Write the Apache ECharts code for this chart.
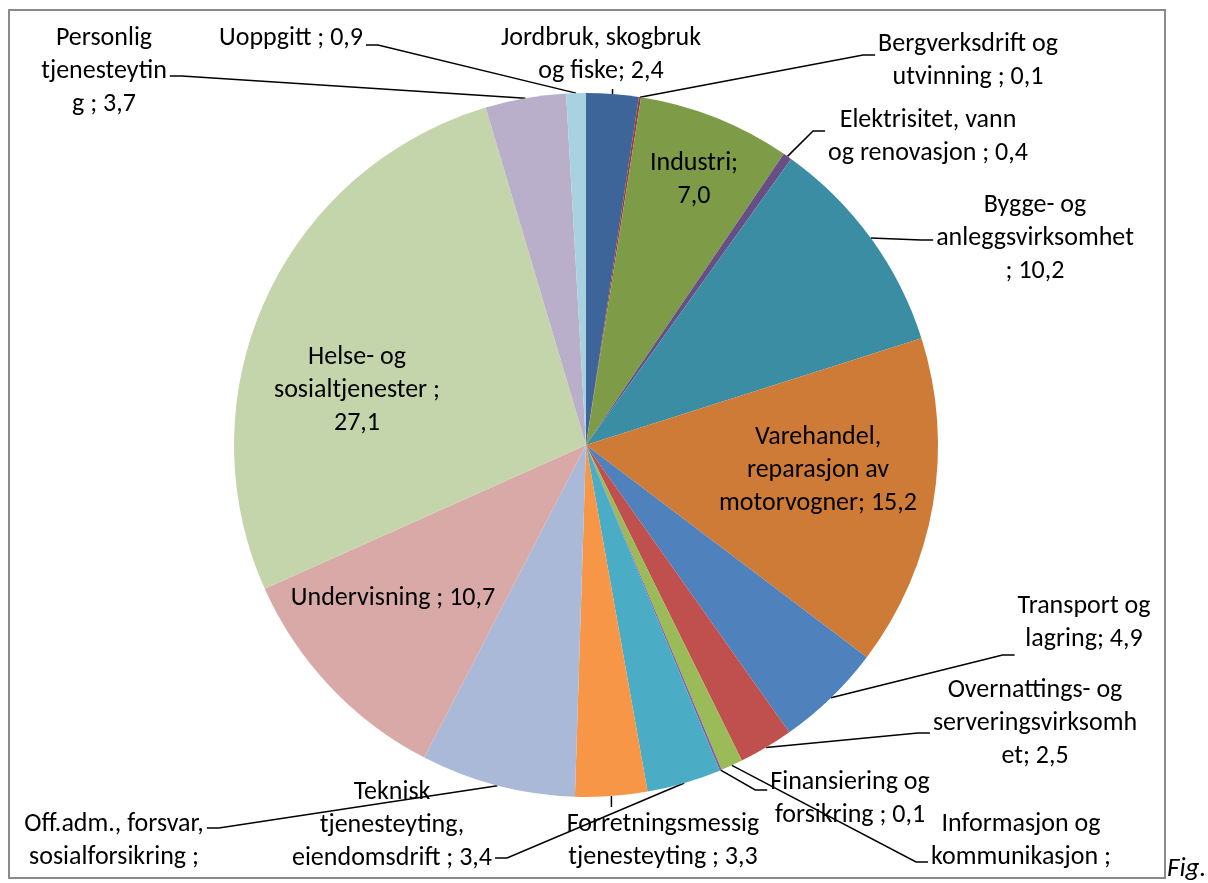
<!DOCTYPE html>
<html>
<head>
<meta charset="utf-8">
<script src="https://cdn.jsdelivr.net/npm/echarts@6/dist/echarts.min.js"></script>
<style>
html,body{margin:0;padding:0;background:#fff;}
#chart{width:1208px;height:883px;}
</style>
</head>
<body>
<div id="chart"></div>
<script>
// ---- data ----
const categories = [
  'Jordbruk, skogbruk\nog fiske',
  'Bergverksdrift og\nutvinning',
  'Industri',
  'Elektrisitet, vann\nog renovasjon',
  'Bygge- og\nanleggsvirksomhet',
  'Varehandel,\nreparasjon av\nmotorvogner',
  'Transport og\nlagring',
  'Overnattings- og\nserveringsvirksomh\net',
  'Informasjon og\nkommunikasjon',
  'Finansiering og\nforsikring',
  'Teknisk\ntjenesteyting,\neiendomsdrift',
  'Forretningsmessig\ntjenesteyting',
  'Off.adm., forsvar,\nsosialforsikring',
  'Undervisning',
  'Helse- og\nsosialtjenester',
  'Personlig\ntjenesteytin\ng',
  'Uoppgitt'
];
const values = [2.4, 0.1, 7.0, 0.4, 10.2, 15.2, 4.9, 2.5, 1.0, 0.1, 3.4, 3.3, 7.1, 10.7, 27.1, 3.7, 0.9];
// separator between name and value; the values of two labels fall outside the picture (cut off, as in the original)
const separators = ['; ', ' ; ', ';\n', ' ; ', '\n; ', '; ', '; ', '; ', ' ;\n\n', ' ; ', ' ; ', ' ; ', ' ;\n\n', ' ; ', ' ;\n', ' ; ', ' ; '];

// ---- styles / layout ----
const colors = ['#3D6599','#9A3D3B','#7E9C48','#674F86','#3B8DA4','#CF7B38',
  '#4F81BD','#C0504D','#9BBB59','#8064A2','#4BACC6','#F79646',
  '#AAB9D8','#D9A9A8','#C5D5AB','#B9AFCB','#A8D2DF'];
// x,y: centre of the label's text block; side: where the leader line attaches
const labelPlacement = [
  {x:601, y:55, side:'bottom'},
  {x:968, y:61, side:'left', dy:-6},
  {x:694, y:180, side:'none'},
  {x:928, y:137, side:'left', dy:-6},
  {x:1035, y:238, side:'left', dy:2},
  {x:818, y:470, side:'none'},
  {x:1084, y:623, side:'left', dy:32},
  {x:1035, y:723, side:'left', dy:10},
  {x:1021, y:873.5, side:'left', dy:-11.5},
  {x:850, y:799, side:'left', dy:-9},
  {x:392, y:825, side:'right', dy:33},
  {x:663, y:841, side:'top'},
  {x:114, y:873.5, side:'right', dy:-45.5},
  {x:393, y:598, side:'none'},
  {x:357, y:390, side:'none'},
  {x:104, y:71, side:'right', dy:5},
  {x:291, y:38, side:'right', dy:7}
];
const FONT = 'Carlito, Lato, sans-serif';

function fmt(v){ return v.toFixed(1).replace('.', ','); }

const chart = echarts.init(document.getElementById('chart'), null, {renderer:'canvas'});
const data = categories.map((c, i) => {
  const inside = labelPlacement[i].side === 'none';
  return {
    name: c, value: values[i],
    itemStyle: {color: colors[i]},
    label: {position: inside ? 'inside' : 'outside'},
    labelLine: {show: !inside}
  };
});

chart.setOption({
  animation: false,
  backgroundColor: '#fff',
  graphic: [
    {type:'rect', shape:{x:9, y:10, width:1156, height:868}, style:{fill:'none', stroke:'#8a8a8a', lineWidth:2}, z:0},
    {type:'text', left:1167, top:856, style:{text:'Fig.', font:'italic 27px ' + FONT, fill:'#000'}}
  ],
  series: [{
    type: 'pie',
    center: [586, 445],
    radius: 352,
    startAngle: 90,
    clockwise: true,
    avoidLabelOverlap: false,
    itemStyle: {borderWidth: 0},
    emphasis: {disabled: true},
    label: {
      show: true,
      color: '#000',
      fontFamily: FONT,
      fontSize: 26,
      lineHeight: 33,
      align: 'center',
      formatter: p => categories[p.dataIndex] + separators[p.dataIndex] + fmt(values[p.dataIndex])
    },
    labelLine: {show: true, length: 10, length2: 10, smooth: false, lineStyle: {color: '#000', width: 1.5}},
    labelLayout: function (params) {
      const i = params.dataIndex;
      const pl = labelPlacement[i];
      const w = params.labelRect.width, h = params.labelRect.height;
      const out = {x: pl.x, y: pl.y, align: 'center', verticalAlign: 'middle'};
      if (pl.side === 'none' || !params.labelLinePoints) return out;
      const s = params.labelLinePoints[0];
      const dy = pl.dy || 0;
      let pts;
      if (pl.side === 'bottom') {
        pts = [[s[0], s[1]], [s[0], pl.y + h / 2 + 1]];
      } else if (pl.side === 'top') {
        pts = [[s[0], s[1]], [s[0], pl.y - h / 2 - 1]];
      } else if (pl.side === 'left') {
        const ex = pl.x - w / 2 - 3, ey = pl.y + dy;
        pts = [[s[0], s[1]], [ex - 12, ey], [ex, ey]];
      } else {
        const ex = pl.x + w / 2 + 3, ey = pl.y + dy;
        pts = [[s[0], s[1]], [ex + 12, ey], [ex, ey]];
      }
      out.labelLinePoints = pts;
      return out;
    },
    data: data
  }]
});
</script>
</body>
</html>
